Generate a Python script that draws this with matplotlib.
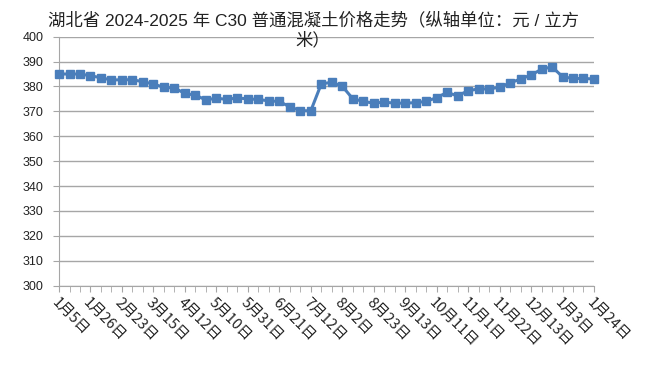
import numpy as np
import matplotlib.pyplot as plt
from matplotlib.ticker import MultipleLocator

plt.rcParams['font.family'] = ['Noto Sans CJK SC', 'DejaVu Sans']

# weekly C30 price, 52 points (yuan / m3)
prices = [385, 385, 385, 384.3, 383.5, 382.6, 382.7, 382.7, 381.9, 381,
          379.6, 379.4, 377.2, 376.5, 374.6, 375.3, 374.8, 375.4, 375, 374.8,
          374.2, 374, 371.8, 370.3, 370.2, 381, 381.7, 380.1, 375.1, 374,
          373.3, 373.7, 373.3, 373.3, 373.5, 374, 375.5, 377.6, 376.2, 378.3,
          379, 379, 379.7, 381.4, 383, 384.6, 386.9, 387.9, 383.9, 383.2,
          383.2, 383]

tick_labels = ['1月5日', '1月26日', '2月23日', '3月15日', '4月12日', '5月10日',
               '5月31日', '6月21日', '7月12日', '8月2日', '8月23日', '9月13日',
               '10月11日', '11月1日', '11月22日', '12月13日', '1月3日', '1月24日']

title = '湖北省 2024-2025 年 C30 普通混凝土价格走势（纵轴单位：元 / 立方\n米）'

x = np.arange(len(prices))

fig = plt.figure(figsize=(6.58, 3.86), dpi=100)
ax = fig.add_axes([0.0897, 0.260, 0.813, 0.645])

ax.plot(x, prices, color='#4a7ebb', lw=2.2, marker='s', markersize=5.8,
        markeredgecolor='#4a7ebb', clip_on=False, zorder=3)

ax.set_xlim(0, len(prices) - 1)
ax.set_ylim(300, 400)
ax.yaxis.set_major_locator(MultipleLocator(10))
ax.set_xticks(x[::3])
ax.set_xticklabels(tick_labels, rotation=-45, ha='left', va='top',
                   rotation_mode='anchor', fontsize=10.5)
ax.set_xticks(x, minor=True)

ax.grid(axis='y', color='#a6a6a6', lw=1)
ax.set_axisbelow(True)
for s in ['top', 'right']:
    ax.spines[s].set_visible(False)
for s in ['left', 'bottom']:
    ax.spines[s].set_color('#a6a6a6')
ax.tick_params(axis='y', colors='#a6a6a6', labelcolor='#222222', length=4,
               labelsize=9, pad=7)
ax.tick_params(axis='x', which='both', colors='#a6a6a6', labelcolor='#222222',
               length=4, pad=3)
for lab in ax.get_yticklabels():
    lab.set_fontfamily(['Liberation Sans', 'DejaVu Sans'])

fig.text(0.476, 0.97, title, ha='center', va='top', fontsize=12.5,
         color='#222222', linespacing=1.25,
         family=['Liberation Sans', 'Noto Sans CJK SC'])

fig.savefig('out.png')
